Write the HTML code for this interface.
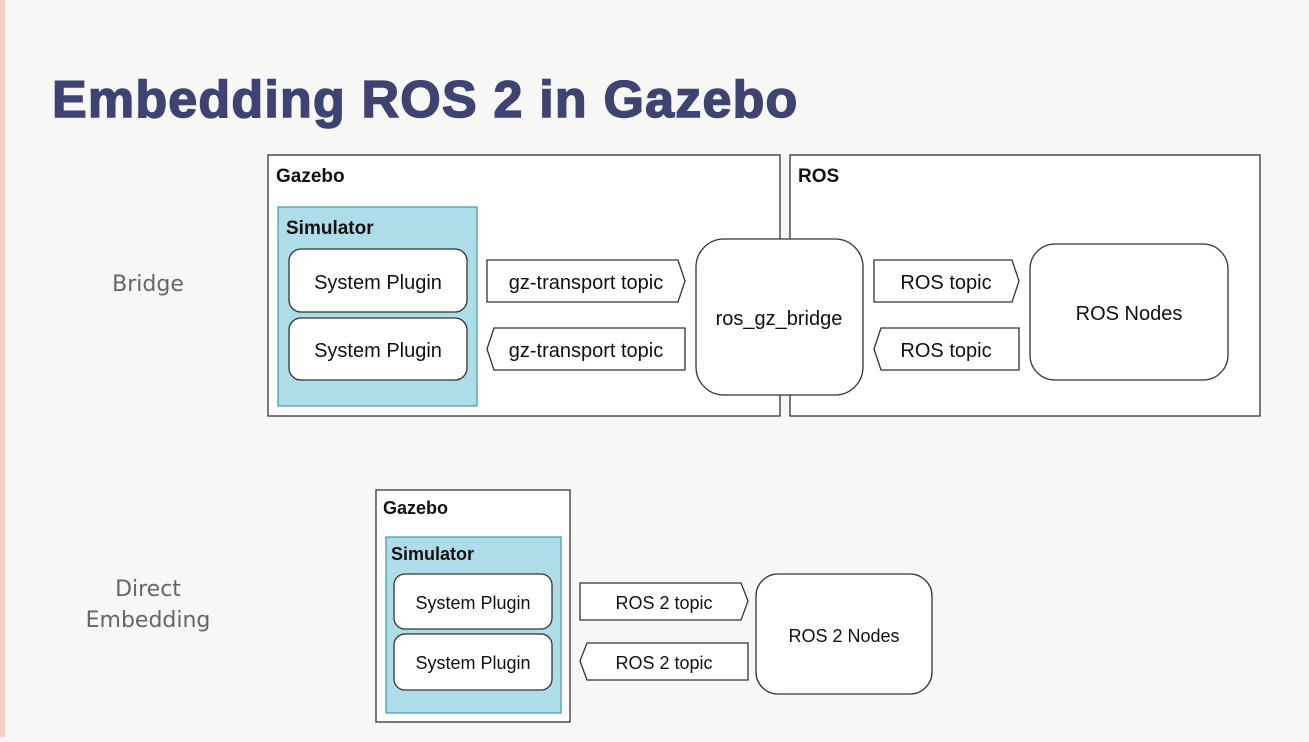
<!DOCTYPE html>
<html><head><style>
body{margin:0;width:1309px;height:737px;overflow:hidden;background:#f7f7f5;}
</style></head><body>
<svg width="1309" height="737" xmlns="http://www.w3.org/2000/svg" font-family="Liberation Sans, sans-serif">
<rect x="0" y="0" width="5" height="737" fill="#f6cfc6"/>
<text x="52" y="117" font-size="52" font-weight="bold" fill="#3e4372" stroke="#3e4372" stroke-width="1.5" letter-spacing="1.2">Embedding ROS 2 in Gazebo</text>
<text x="148" y="291" font-size="22" fill="#666" text-anchor="middle" font-family="DejaVu Sans, sans-serif">Bridge</text>
<text x="148" y="596" font-size="22" fill="#666" text-anchor="middle" font-family="DejaVu Sans, sans-serif">Direct</text>
<text x="148" y="627" font-size="22" fill="#666" text-anchor="middle" font-family="DejaVu Sans, sans-serif">Embedding</text>
<g stroke="#333" stroke-width="1.3" fill="#fff">
<rect x="268" y="155" width="512" height="261"/>
<rect x="790" y="155" width="470" height="261"/>
<rect x="278" y="207" width="199" height="199" fill="#aedde9" stroke="#4a9fb0"/>
<rect x="289" y="249" width="178" height="63" rx="12"/>
<rect x="289" y="318" width="178" height="62" rx="12"/>
<polygon points="487,260 678,260 685,281 678,302 487,302"/>
<polygon points="494,328 685,328 685,370 494,370 487,349"/>
<rect x="696" y="239" width="167" height="156" rx="28"/>
<polygon points="874,260 1012,260 1019,281 1012,302 874,302"/>
<polygon points="881,328 1019,328 1019,370 881,370 874,349"/>
<rect x="1030" y="244" width="198" height="136" rx="25"/>
<rect x="376" y="490" width="194" height="232"/>
<rect x="386" y="537" width="175" height="176" fill="#aedde9" stroke="#4a9fb0"/>
<rect x="394" y="574" width="158" height="55" rx="11"/>
<rect x="394" y="634" width="158" height="56" rx="11"/>
<polygon points="580,583 741,583 748,601 741,620 580,620"/>
<polygon points="587,643 748,643 748,680 587,680 580,661"/>
<rect x="756" y="574" width="176" height="120" rx="22"/>
</g>
<g fill="#111" font-size="20">
<text x="276" y="182" font-weight="bold" font-size="19">Gazebo</text>
<text x="798" y="182" font-weight="bold" font-size="19">ROS</text>
<text x="286" y="234" font-weight="bold" font-size="19">Simulator</text>
<text x="378" y="289" text-anchor="middle">System Plugin</text>
<text x="378" y="357" text-anchor="middle">System Plugin</text>
<text x="586" y="289" text-anchor="middle">gz-transport topic</text>
<text x="586" y="357" text-anchor="middle">gz-transport topic</text>
<text x="779" y="325" text-anchor="middle">ros_gz_bridge</text>
<text x="946" y="289" text-anchor="middle">ROS topic</text>
<text x="946" y="357" text-anchor="middle">ROS topic</text>
<text x="1129" y="320" text-anchor="middle">ROS Nodes</text>
</g>
<g fill="#111" font-size="18">
<text x="383" y="514" font-weight="bold">Gazebo</text>
<text x="391" y="560" font-weight="bold">Simulator</text>
<text x="473" y="609" text-anchor="middle">System Plugin</text>
<text x="473" y="669" text-anchor="middle">System Plugin</text>
<text x="664" y="609" text-anchor="middle">ROS 2 topic</text>
<text x="664" y="669" text-anchor="middle">ROS 2 topic</text>
<text x="844" y="642" text-anchor="middle">ROS 2 Nodes</text>
</g>
</svg>
</body></html>
